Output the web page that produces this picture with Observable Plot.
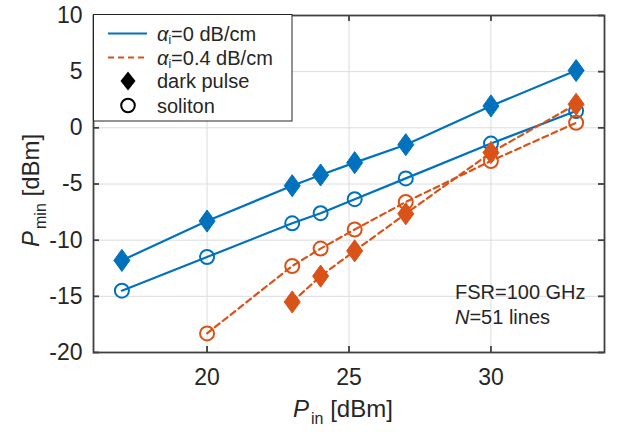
<!DOCTYPE html>
<html>
<head>
<meta charset="utf-8">
<script src="https://cdn.jsdelivr.net/npm/d3@7"></script>
<script src="https://cdn.jsdelivr.net/npm/@observablehq/plot@0.6"></script>
<style>
  html, body { margin: 0; padding: 0; background: #fff; }
</style>
</head>
<body>
<div id="chart"></div>
<script>
// ---- data ----
const xTicks = [20, 25, 30];
const yTicks = [-20, -15, -10, -5, 0, 5, 10];

const pinA0 = [17, 20, 23, 24, 25.2, 27, 30, 33];
const darkA0 = [-11.8, -8.3, -5.15, -4.2, -3.1, -1.5, 1.95, 5.1];
const solA0 = [-14.5, -11.5, -8.5, -7.6, -6.35, -4.5, -1.4, 1.5];

const pinSolA04 = [20, 23, 24, 25.2, 27, 30, 33];
const solA04 = [-18.3, -12.3, -10.75, -9.05, -6.6, -2.95, 0.45];

const pinDarkA04 = [23, 24, 25.2, 27, 30, 33];
const darkA04 = [-15.5, -13.2, -10.95, -7.65, -2.2, 2.1];

const legendLabels = ["=0 dB/cm", "=0.4 dB/cm", "dark pulse", "soliton"];
const annotation = ["FSR=100 GHz", "=51 lines"];
const annotationPos = {x: 28.75, y: -15.3};

// ---- tables ----
const toRows = (xs, ys) => xs.map((x, i) => ({x, y: ys[i]}));
const rDarkA0 = toRows(pinA0, darkA0);
const rSolA0 = toRows(pinA0, solA0);
const rSolA04 = toRows(pinSolA04, solA04);
const rDarkA04 = toRows(pinDarkA04, darkA04);

const BLUE = "#0072BD", ORANGE = "#D95319", AX = "#404040", TXT = "#262626";
const FONT = "'Liberation Sans', Arial, Helvetica, sans-serif";

// tall diamond symbol (MATLAB style)
const tallDiamond = {
  draw(ctx, size) {
    const r = Math.sqrt(size / Math.PI);
    const hh = r * 1.38;
    ctx.moveTo(0, -hh);
    ctx.lineTo(r, 0);
    ctx.lineTo(0, hh);
    ctx.lineTo(-r, 0);
    ctx.closePath();
  }
};

const W = 618, H = 432, mL = 93, mR = 14, mT = 15, mB = 80;
const fw = W - mL - mR, fh = H - mT - mB;
const tickLen = 6;

const svg = Plot.plot({
  width: W, height: H,
  marginLeft: mL, marginRight: mR, marginTop: mT, marginBottom: mB,
  x: {domain: [16, 34]},
  y: {domain: [-20, 10]},
  style: {fontFamily: FONT, background: "#fff", color: TXT},
  marks: [
    Plot.gridX(xTicks, {stroke: "#dcdcdc", strokeOpacity: 1, strokeWidth: 1}),
    Plot.gridY(yTicks, {stroke: "#dcdcdc", strokeOpacity: 1, strokeWidth: 1}),
    Plot.line(rDarkA0, {x: "x", y: "y", stroke: BLUE, strokeWidth: 2.2}),
    Plot.line(rSolA0, {x: "x", y: "y", stroke: BLUE, strokeWidth: 2.2}),
    Plot.dot(rDarkA0, {x: "x", y: "y", r: 8, symbol: tallDiamond, fill: BLUE, stroke: BLUE, strokeWidth: 1}),
    Plot.dot(rSolA0, {x: "x", y: "y", r: 7, symbol: "circle", fill: "none", stroke: BLUE, strokeWidth: 2}),
    Plot.line(rSolA04, {x: "x", y: "y", stroke: ORANGE, strokeWidth: 2.2, strokeDasharray: "6,4"}),
    Plot.line(rDarkA04, {x: "x", y: "y", stroke: ORANGE, strokeWidth: 2.2, strokeDasharray: "6,4"}),
    Plot.dot(rDarkA04, {x: "x", y: "y", r: 8, symbol: tallDiamond, fill: ORANGE, stroke: ORANGE, strokeWidth: 1}),
    Plot.dot(rSolA04, {x: "x", y: "y", r: 7, symbol: "circle", fill: "none", stroke: ORANGE, strokeWidth: 2}),
    Plot.frame({stroke: AX, strokeWidth: 1.8}),
    // inward ticks on all four sides
    Plot.ruleX(xTicks, {x: d => d, insetTop: fh - tickLen, stroke: AX, strokeWidth: 1.8}),
    Plot.ruleX(xTicks, {x: d => d, insetBottom: fh - tickLen, stroke: AX, strokeWidth: 1.8}),
    Plot.ruleY(yTicks, {y: d => d, insetRight: fw - tickLen, stroke: AX, strokeWidth: 1.8}),
    Plot.ruleY(yTicks, {y: d => d, insetLeft: fw - tickLen, stroke: AX, strokeWidth: 1.8}),
    Plot.axisX(xTicks, {tickSize: 0, tickPadding: 16, fontSize: 23, tickFormat: d => String(d), label: null, color: TXT}),
    Plot.axisY(yTicks, {tickSize: 0, tickPadding: 11, fontSize: 23, tickFormat: d => String(d), label: null, color: TXT})
  ]
});
document.getElementById("chart").appendChild(svg);

const sx = svg.scale("x"), sy = svg.scale("y");
const root = d3.select(svg);
const mkText = (sel) => sel.append("text")
  .attr("text-anchor", "start").attr("fill", TXT).attr("font-family", FONT);

// axis labels
const xl = mkText(root).attr("x", 293).attr("y", 416.5).attr("font-size", 24);
xl.append("tspan").attr("font-style", "italic").text("P");
xl.append("tspan").attr("font-size", 16).attr("dy", 7).attr("dx", 2).text("in");
xl.append("tspan").attr("dy", -7).text(" [dBm]");

const yl = mkText(root).attr("transform", "translate(39,247) rotate(-90)").attr("font-size", 24);
yl.append("tspan").attr("font-style", "italic").text("P");
yl.append("tspan").attr("font-size", 16).attr("dy", 7).attr("dx", 2).text("min");
yl.append("tspan").attr("dy", -7).text(" [dBm]");

// annotation
const ax0 = sx.apply(annotationPos.x), ay0 = sy.apply(annotationPos.y);
mkText(root).attr("x", ax0).attr("y", ay0).attr("font-size", 20).text(annotation[0]);
const a2 = mkText(root).attr("x", ax0).attr("y", ay0 + 25).attr("font-size", 20);
a2.append("tspan").attr("font-style", "italic").text("N");
a2.append("tspan").text(annotation[1]);

// legend
const lg = root.append("g");
lg.append("rect").attr("x", 93.5).attr("y", 14.5).attr("width", 198.5).attr("height", 106.5)
  .attr("fill", "#fff").attr("stroke", "#262626").attr("stroke-width", 1);
const rowsY = [33.5, 57.5, 81, 105.5];
const sx0 = 108, sx1 = 147, mx = 128, tx = 157;
// line samples
lg.append("path").attr("d", `M${sx0},${rowsY[0]}H${sx1}`)
  .attr("fill", "none").attr("stroke", BLUE).attr("stroke-width", 2.2);
lg.append("path").attr("d", `M${sx0},${rowsY[1]}H${sx1}`)
  .attr("fill", "none").attr("stroke", ORANGE).attr("stroke-width", 2.2).attr("stroke-dasharray", "6,4");
lg.append("path").attr("transform", `translate(${mx},${rowsY[2]})`)
  .attr("d", "M0,-9.5L7.5,0L0,9.5L-7.5,0Z").attr("fill", "#000");
lg.append("circle").attr("cx", mx).attr("cy", rowsY[3]).attr("r", 6.8)
  .attr("fill", "none").attr("stroke", "#000").attr("stroke-width", 2);
legendLabels.forEach((lab, i) => {
  const t = mkText(lg).attr("x", tx).attr("y", rowsY[i] + 7).attr("font-size", 20);
  if (i < 2) {
    t.append("tspan").attr("font-style", "italic").text("α");
    t.append("tspan").attr("font-size", 12).attr("dy", 3.5).text("i");
    t.append("tspan").attr("dy", -3.5).text(lab);
  } else {
    t.text(lab);
  }
});
</script>
</body>
</html>
